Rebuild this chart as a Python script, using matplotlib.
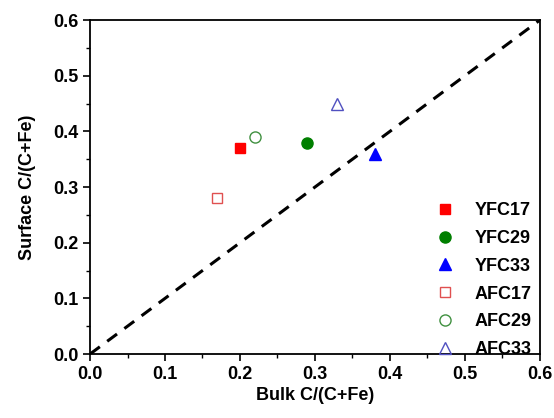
import matplotlib.pyplot as plt
from matplotlib.ticker import MultipleLocator

plt.rcParams['font.family'] = ['Liberation Sans', 'DejaVu Sans']
plt.rcParams['font.weight'] = 'bold'

names = ['YFC17', 'YFC29', 'YFC33', 'AFC17', 'AFC29', 'AFC33']
bulk = [0.20, 0.29, 0.38, 0.17, 0.22, 0.33]
surface = [0.37, 0.38, 0.36, 0.28, 0.39, 0.45]
markers = ['s', 'o', '^', 's', 'o', '^']
colors = ['#ff0000', '#007f00', '#0000ff', '#e05050', '#409040', '#5050c0']
filled = [True, True, True, False, False, False]

fig = plt.figure(figsize=(5.54, 4.18), dpi=100)
ax = fig.add_axes([0.1625, 0.153, 0.812, 0.799])

ax.plot([0, 0.6], [0, 0.6], '--', color='black', lw=2.2, dashes=(4, 3), zorder=1)

for n, x, y, m, c, f in zip(names, bulk, surface, markers, colors, filled):
    ax.plot(x, y, m, color=c, ms=8 if m != 's' else 7,
            mfc=c if f else 'none', mec=c, mew=1.0, label=n, zorder=3)

ax.set_xlim(0, 0.6)
ax.set_ylim(0, 0.6)
ax.xaxis.set_major_locator(MultipleLocator(0.1))
ax.yaxis.set_major_locator(MultipleLocator(0.1))
ax.xaxis.set_minor_locator(MultipleLocator(0.05))
ax.yaxis.set_minor_locator(MultipleLocator(0.05))
ax.tick_params(which='major', direction='out', length=5, width=1.2, labelsize=13)
ax.tick_params(which='minor', direction='out', length=3, width=1.0)
for s in ax.spines.values():
    s.set_linewidth(1.3)

ax.set_xlabel('Bulk C/(C+Fe)', fontsize=13, fontweight='bold', labelpad=3)
ax.set_ylabel('Surface C/(C+Fe)', fontsize=13, fontweight='bold', labelpad=12)

leg = ax.legend(loc='lower right', frameon=False, fontsize=13, handletextpad=0.9,
                labelspacing=0.6, borderaxespad=0.2, handlelength=1.5,
                bbox_to_anchor=(1.006, -0.045))
for t in leg.get_texts():
    t.set_fontweight('bold')

fig.savefig('out.png', dpi=100)
